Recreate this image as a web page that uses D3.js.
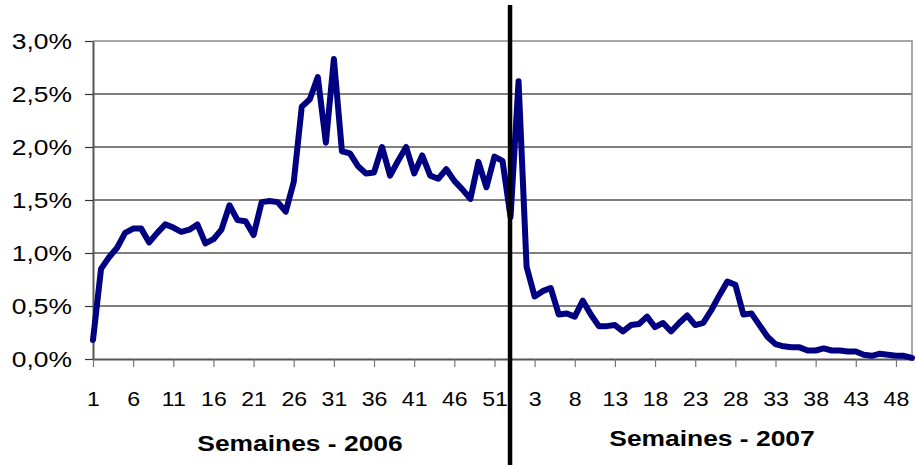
<!DOCTYPE html>
<html><head><meta charset="utf-8">
<script src="https://cdn.jsdelivr.net/npm/d3@7"></script>
<style>body{margin:0;background:#fff}svg{display:block}</style>
</head><body><svg id="c" width="916" height="465"></svg>
<script>
// ---- data ----
const weeks2006 = d3.range(1, 54);   // 53 weeks in 2006 series
const weeks2007 = d3.range(1, 51);   // 50 weeks in 2007 series
const share2006 = [0.18,0.85,0.96,1.05,1.19,1.23,1.23,1.10,1.19,1.27,
  1.24,1.20,1.22,1.27,1.09,1.13,1.22,1.45,1.31,1.30,
  1.17,1.48,1.49,1.48,1.39,1.67,2.38,2.45,2.66,2.04,
  2.83,1.96,1.94,1.82,1.75,1.76,2.00,1.73,1.87,2.00,
  1.75,1.92,1.73,1.70,1.79,1.68,1.60,1.51,1.86,1.62,
  1.91,1.87,1.34];
const share2007 = [2.62,0.87,0.59,0.64,0.67,0.42,0.43,0.40,0.55,0.42,
  0.31,0.31,0.32,0.26,0.32,0.33,0.40,0.30,0.34,0.26,
  0.34,0.41,0.32,0.34,0.46,0.60,0.73,0.70,0.42,0.43,
  0.32,0.21,0.14,0.12,0.11,0.11,0.08,0.08,0.10,0.08,
  0.08,0.07,0.07,0.04,0.03,0.05,0.04,0.03,0.03,0.01];
const yTicks = [0, 0.5, 1, 1.5, 2, 2.5, 3];
const tickEvery = 5;
const axisTitles = ["Semaines - 2006", "Semaines - 2007"];

const data = [
  ...weeks2006.map((w, i) => ({key: "2006-" + w, week: w, v: share2006[i]})),
  ...weeks2007.map((w, i) => ({key: "2007-" + w, week: w, v: share2007[i]}))
];

const svg = d3.select("#c");
const L = 93, R = 912, T = 41, B = 359;
const x = d3.scalePoint().domain(data.map(d => d.key)).range([L, R]);
const y = d3.scaleLinear().domain([0, 3]).range([B, T]);

// gridlines
svg.append("g").selectAll("line").data(yTicks.filter(t => t > 0 && t < 3)).join("line")
  .attr("x1", L).attr("x2", R).attr("y1", d => y(d)).attr("y2", d => y(d))
  .attr("stroke", "#000").attr("stroke-width", 1.2);

// plot border top/right
svg.append("path").attr("d", `M${L},${y(3)}H${R}V${B}`)
  .attr("fill", "none").attr("stroke", "#8c8c8c").attr("stroke-width", 1.5);

// y axis
const ya = svg.append("g").attr("transform", `translate(${L},0)`)
  .call(d3.axisLeft(y).tickValues(yTicks).tickSize(8).tickSizeOuter(0)
    .tickFormat(d => d.toFixed(1).replace(".", ",") + "%"));
ya.select(".domain").attr("stroke", "#555").attr("stroke-width", 2);
ya.selectAll(".tick line").attr("stroke", "#333").attr("stroke-width", 1.2);
ya.selectAll(".tick text").attr("x", 0).attr("dy", "0.36em")
  .attr("transform", "translate(-21,0) scale(1.2,1)")
  .attr("font-family", "Liberation Sans, Arial, sans-serif").attr("font-size", 22).attr("fill", "#000");

// x axis
const keys = data.map(d => d.key);
const xa = svg.append("g").attr("transform", `translate(0,${B})`)
  .call(d3.axisBottom(x).tickValues(keys.filter((k, i) => i % tickEvery === 0)).tickSize(8).tickSizeOuter(0)
    .tickFormat(k => k.split("-")[1]));
xa.select(".domain").attr("stroke", "#555").attr("stroke-width", 2);
xa.selectAll(".tick line").attr("stroke", "#777").attr("stroke-width", 1.2);
xa.selectAll(".tick text").attr("y", 47).attr("dy", 0)
  .attr("transform", "scale(1.1,1)")
  .attr("font-family", "Liberation Sans, Arial, sans-serif").attr("font-size", 21).attr("fill", "#000");

// line
svg.append("path").datum(data)
  .attr("fill", "none").attr("stroke", "#000080").attr("stroke-width", 6)
  .attr("stroke-linejoin", "round").attr("stroke-linecap", "round")
  .attr("d", d3.line().x(d => x(d.key)).y(d => y(d.v)));

// year separator
const sepX = x("2006-53") - 0.5;
svg.append("line").attr("x1", sepX).attr("x2", sepX).attr("y1", 5).attr("y2", 465)
  .attr("stroke", "#000").attr("stroke-width", 4.5);

// axis titles
const titlePos = [[300, 451], [712, 446]];
svg.append("g").selectAll("text").data(axisTitles).join("text")
  .attr("transform", (d, i) => `translate(${titlePos[i][0]},${titlePos[i][1]}) scale(1.2,1)`)
  .attr("text-anchor", "middle")
  .attr("font-family", "Liberation Sans, Arial, sans-serif").attr("font-weight", "bold")
  .attr("font-size", 22).attr("fill", "#000").text(d => d);
</script></body></html>
